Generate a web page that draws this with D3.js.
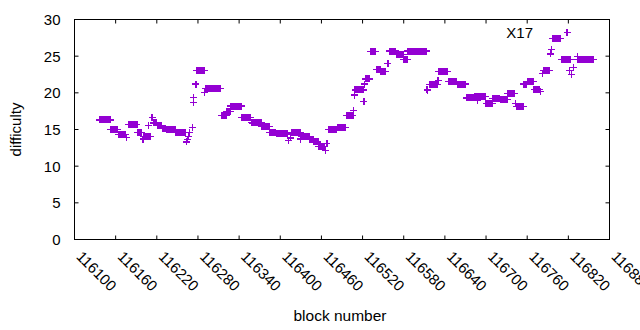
<!DOCTYPE html>
<html>
<head>
<meta charset="utf-8">
<script src="https://cdn.jsdelivr.net/npm/d3@7"></script>
<style>
  body { margin: 0; background: #fff; }
  text { font-family: "Liberation Sans", Arial, sans-serif; }
</style>
</head>
<body>
<div id="chart"></div>
<script>
// runs of blocks with the same difficulty: [first block, last block, difficulty]
var runs = [
  [116136,116152,16.3], [116153,116163,15.0], [116164,116174,14.3], [116176,116176,13.9],
  [116179,116191,15.7], [116192,116198,14.55], [116200,116200,13.7], [116201,116211,14.1],
  [116208,116208,15.6], [116213,116213,16.6], [116215,116220,15.9], [116221,116227,15.5],
  [116228,116233,15.2], [116234,116247,15.0], [116248,116262,14.6], [116263,116263,13.3],
  [116265,116265,13.6], [116266,116266,14.0], [116268,116268,14.6], [116272,116272,15.3],
  [116273,116273,18.7], [116274,116274,19.4], [116277,116277,21.2], [116278,116289,23.1],
  [116290,116290,20.0], [116291,116313,20.55], [116315,116321,16.9], [116322,116327,17.5],
  [116328,116343,18.2], [116344,116357,16.6], [116358,116358,16.0], [116359,116372,15.9],
  [116373,116384,15.4], [116385,116393,14.6], [116394,116411,14.4], [116412,116412,13.5],
  [116415,116415,13.85], [116417,116429,14.6], [116430,116430,13.7], [116431,116442,14.05],
  [116443,116448,13.6], [116449,116455,13.3], [116456,116465,12.7], [116466,116466,12.1],
  [116468,116468,13.05], [116471,116482,14.95], [116483,116495,15.25], [116496,116506,16.9],
  [116507,116507,17.6], [116508,116508,19.7], [116509,116521,20.4], [116522,116522,18.8],
  [116523,116523,21.2], [116524,116530,21.9], [116531,116539,25.6], [116540,116546,23.2],
  [116547,116553,22.9], [116557,116557,24.05], [116559,116568,25.7], [116569,116579,25.2],
  [116580,116585,24.6], [116586,116613,25.7], [116614,116614,20.5], [116615,116615,20.3],
  [116617,116629,21.1], [116630,116630,21.7], [116631,116644,22.9], [116645,116657,21.6],
  [116658,116670,21.2], [116671,116682,19.3], [116683,116699,19.5], [116687,116687,18.95],
  [116700,116709,18.6], [116710,116720,19.2], [116721,116731,19.05], [116732,116742,19.95],
  [116743,116743,18.5], [116744,116754,18.1], [116755,116759,21.2], [116760,116769,21.6],
  [116770,116778,20.45], [116779,116779,20.2], [116782,116782,22.6], [116784,116793,23.1],
  [116794,116794,25.3], [116796,116796,25.9], [116797,116809,27.4], [116810,116823,24.5],
  [116822,116822,23.1], [116825,116825,22.5], [116827,116827,23.5], [116833,116833,24.95],
  [116834,116857,24.5]
];
var xTicks = [116100,116160,116220,116280,116340,116400,116460,116520,116580,116640,116700,116760,116820,116880];
var yTicks = [0,5,10,15,20,25,30];
var seriesName = "X17";

// one point per block
var data = [];
runs.forEach(function(r) {
  for (var b = r[0]; b <= r[1]; b++) data.push({block: b, diff: r[2]});
});

var margin = {top: 19.5, right: 30.5, bottom: 90.5, left: 74.5},
    width = 640 - margin.left - margin.right,
    height = 330 - margin.top - margin.bottom;

var svg = d3.select("#chart")
  .append("svg")
  .attr("width", 640)
  .attr("height", 330)
  .append("g")
  .attr("transform", "translate(" + margin.left + "," + margin.top + ")");

var x = d3.scaleLinear().domain([116100, 116880]).range([0, width]);
var y = d3.scaleLinear().domain([0, 30]).range([height, 0]);
var color = "#9400d3";
var tick = 4;

// frame
svg.append("rect")
  .attr("width", width).attr("height", height)
  .attr("fill", "none").attr("stroke", "#000").attr("stroke-width", 1);

// x ticks (bottom + mirrored top)
var xg = svg.append("g");
xTicks.forEach(function(t) {
  xg.append("line").attr("x1", x(t)).attr("x2", x(t)).attr("y1", height).attr("y2", height - tick).attr("stroke", "#000");
  xg.append("line").attr("x1", x(t)).attr("x2", x(t)).attr("y1", 0).attr("y2", tick).attr("stroke", "#000");
  xg.append("text")
    .attr("transform", "translate(" + (x(t) + 1) + "," + (height + 18) + ") rotate(45)")
    .attr("font-size", 15)
    .text(t);
});

// y ticks (left + mirrored right)
var yg = svg.append("g");
yTicks.forEach(function(t) {
  yg.append("line").attr("x1", 0).attr("x2", tick).attr("y1", y(t)).attr("y2", y(t)).attr("stroke", "#000");
  yg.append("line").attr("x1", width).attr("x2", width - tick).attr("y1", y(t)).attr("y2", y(t)).attr("stroke", "#000");
  yg.append("text")
    .attr("x", -14).attr("y", y(t) + 5.5)
    .attr("text-anchor", "end")
    .attr("font-size", 15)
    .text(t);
});

// axis titles
svg.append("text")
  .attr("x", width / 2 - 2).attr("y", 301)
  .attr("text-anchor", "middle").attr("font-size", 15.5)
  .text("block number");
svg.append("text")
  .attr("transform", "translate(-54," + (height / 2) + ") rotate(-90)")
  .attr("text-anchor", "middle").attr("font-size", 15)
  .text("difficulty");

var plus = "M-3.5,0H3.5M0,-3.5V3.5";

svg.append("g")
  .attr("shape-rendering", "crispEdges")
  .selectAll("path")
  .data(data)
  .enter()
  .append("path")
    .attr("d", plus)
    .attr("transform", function(d) { return "translate(" + x(d.block) + "," + y(d.diff) + ")"; })
    .attr("fill", "none")
    .attr("stroke", color)
    .attr("stroke-width", 1.2);

// key
svg.append("text")
  .attr("x", 533 - margin.left).attr("y", 37.5 - margin.top)
  .attr("text-anchor", "end").attr("font-size", 15)
  .text(seriesName);
svg.append("path")
  .attr("d", plus)
  .attr("shape-rendering", "crispEdges")
  .attr("transform", "translate(" + (567 - margin.left) + "," + (32.5 - margin.top) + ")")
  .attr("fill", "none").attr("stroke", color).attr("stroke-width", 1.2);
</script>
</body>
</html>
